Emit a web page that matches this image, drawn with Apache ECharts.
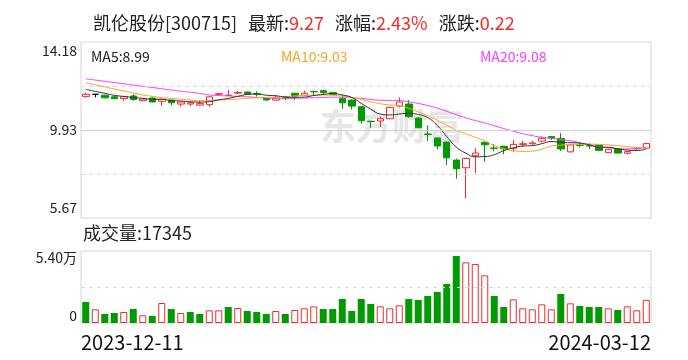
<!DOCTYPE html>
<html><head><meta charset="utf-8">
<script src="https://cdn.jsdelivr.net/npm/echarts@6/dist/echarts.min.js"></script>
<style>html,body{margin:0;padding:0;background:#fff}#c{width:688px;height:360px}</style>
</head><body><div id="c"></div>
<script>
// ---------- data ----------
const dates = ['2023-12-11','2023-12-12','2023-12-13','2023-12-14','2023-12-15','2023-12-18','2023-12-19','2023-12-20','2023-12-21','2023-12-22',
 '2023-12-25','2023-12-26','2023-12-27','2023-12-28','2023-12-29','2024-01-02','2024-01-03','2024-01-04','2024-01-05','2024-01-08',
 '2024-01-09','2024-01-10','2024-01-11','2024-01-12','2024-01-15','2024-01-16','2024-01-17','2024-01-18','2024-01-19','2024-01-22',
 '2024-01-23','2024-01-24','2024-01-25','2024-01-26','2024-01-29','2024-01-30','2024-01-31','2024-02-01','2024-02-02','2024-02-05',
 '2024-02-06','2024-02-07','2024-02-08','2024-02-19','2024-02-20','2024-02-21','2024-02-22','2024-02-23','2024-02-26','2024-02-27',
 '2024-02-28','2024-02-29','2024-03-01','2024-03-04','2024-03-05','2024-03-06','2024-03-07','2024-03-08','2024-03-11','2024-03-12'];
const opens = [11.55,11.65,11.61,11.53,11.44,11.57,11.34,11.47,11.31,11.37,
 11.18,11.18,11.13,11.15,11.65,11.59,11.71,11.76,11.68,11.50,
 11.37,11.48,11.70,11.60,11.79,11.82,11.73,11.44,11.37,11.05,
 10.35,10.36,10.47,11.08,11.18,10.50,9.73,9.54,9.34,8.47,
 8.10,8.68,9.33,9.05,9.14,9.04,9.23,9.26,9.39,9.61,
 9.52,8.87,9.20,9.17,9.20,8.83,9.02,8.80,9.02,9.05];
const closes = [11.65,11.65,11.48,11.44,11.53,11.40,11.42,11.28,11.41,11.24,
 11.28,11.24,11.20,11.53,11.68,11.61,11.74,11.66,11.65,11.38,
 11.47,11.45,11.57,11.70,11.77,11.74,11.65,11.24,11.08,10.37,
 10.33,10.47,11.02,11.28,10.57,10.04,9.70,9.15,8.58,8.05,
 8.55,8.81,9.21,9.04,9.01,9.23,9.26,9.30,9.52,9.53,
 9.01,9.20,9.18,9.15,8.94,8.99,8.81,8.88,9.05,9.27];
const lows = [11.49,11.50,11.45,11.42,11.34,11.34,11.32,11.26,11.10,11.12,
 11.05,11.08,11.10,11.05,11.61,11.57,11.67,11.64,11.54,11.34,
 11.35,11.37,11.37,11.58,11.57,11.63,11.62,10.95,10.92,10.23,
 10.03,10.08,10.45,11.02,10.52,10.00,9.39,8.99,8.23,7.57,
 6.62,7.84,8.39,8.90,8.75,8.87,9.11,9.21,9.32,9.45,
 8.91,8.83,9.08,9.00,8.92,8.81,8.79,8.74,8.95,9.04];
const highs = [11.73,11.67,11.63,11.55,11.55,11.65,11.45,11.49,11.43,11.39,
 11.30,11.31,11.34,11.55,11.72,11.86,11.81,11.78,11.80,11.52,
 11.63,11.58,11.72,11.82,11.82,11.86,11.78,11.63,11.40,11.08,
 10.36,10.57,11.04,11.50,11.37,10.55,10.15,9.56,9.36,8.54,
 8.57,9.04,9.36,9.24,9.16,9.45,9.40,9.40,9.61,9.64,
 9.78,9.22,9.33,9.28,9.22,9.01,9.04,8.91,9.10,9.28];
const volumes = [15750,10250,6750,7500,8250,10500,5750,5250,15000,10500,
 7500,8250,6750,9500,9500,12000,11250,9000,8250,6750,
 9000,6750,9750,11000,12500,10500,10500,18000,9000,18000,
 14250,12500,11000,13250,18000,17250,20250,23250,29250,50250,
 45500,44250,35750,20250,12000,17750,11000,10250,14000,10250,
 21750,14750,12750,12000,12000,11000,9750,12500,9500,17345];
const prevCloseBefore = 11.75;
const ma5Head = [11.89,11.79,11.70,11.60];
const ma10Head = [12.20,12.11,12.01,11.91,11.81,11.71,11.62,11.55,11.49];
const ma20Head = [12.40,12.34,12.28,12.22,12.16,12.10,12.04,11.98,11.92,11.86,11.80,11.75,11.69,11.62,11.59,11.57,11.55,11.53,11.50];
const priceTicks = [14.18, 9.93, 5.67];
const volTickLabels = ['5.40万', '0'];
const volMax = 54000;
const stockName = '凯伦股份', stockCode = '300715';
const latest = '9.27', pctChange = '2.43%', change = '0.22';
const maLabels = ['MA5:8.99', 'MA10:9.03', 'MA20:9.08'];
const volLabel = '成交量:17345';

// ---------- styles ----------
const RED = '#f42a2a', GREEN = '#009b00';
const C_MA5 = '#333333', C_MA10 = '#f7a623', C_MA20 = '#ff3cff';
const FONT = '"Noto Sans CJK SC", "Noto Sans", sans-serif';
const priceMax = priceTicks[0], priceMin = priceTicks[2];

function movingAvg(n, head) {
  return closes.map((c, i) => {
    if (i < n - 1) return head[i];
    let s = 0; for (let k = i - n + 1; k <= i; k++) s += closes[k];
    return +(s / n).toFixed(3);
  });
}
const ma5 = movingAvg(5, ma5Head), ma10 = movingAvg(10, ma10Head), ma20 = movingAvg(20, ma20Head);

const volData = volumes.map((v, i) => {
  const up = closes[i] >= (i === 0 ? prevCloseBefore : closes[i - 1]);
  return { value: v, itemStyle: up ? { color: '#fff', borderColor: RED, borderWidth: 1 } : { color: GREEN } };
});

const q = (priceMax - priceMin) / 4;
const chart = echarts.init(document.getElementById('c'), null, { renderer: 'canvas' });
chart.setOption({
  animation: false,
  backgroundColor: '#fff',
  textStyle: { fontFamily: FONT },
  title: {
    left: 88, top: 9,
    text: '{k|' + stockName + '[' + stockCode + ']}{g|最新:}{v|' + latest + '}{g|涨幅:}{v|' + pctChange + '}{g|涨跌:}{v|' + change + '}',
    textStyle: {
      fontWeight: 'normal',
      rich: {
        k: { fontSize: 18, color: '#222', fontFamily: FONT, fontWeight: 'normal' },
        g: { fontSize: 18, color: '#222', fontFamily: FONT, fontWeight: 'normal', padding: [0, 0, 0, 11] },
        v: { fontSize: 18, color: RED, fontFamily: FONT, fontWeight: 'normal' }
      }
    }
  },
  graphic: [
    { type: 'text', left: 320, top: 108, z: -10, silent: true,
      style: { text: '东方财富', fill: '#e6e6e9', font: 'bold 36px ' + FONT } },
    { type: 'text', x: 91, y: 57, style: { text: maLabels[0], fill: '#222', font: '14px ' + FONT, verticalAlign: 'middle' } },
    { type: 'text', x: 281, y: 57, style: { text: maLabels[1], fill: C_MA10, font: '14px ' + FONT, verticalAlign: 'middle' } },
    { type: 'text', x: 480, y: 57, style: { text: maLabels[2], fill: C_MA20, font: '14px ' + FONT, verticalAlign: 'middle' } },
    { type: 'text', x: 83, y: 233, style: { text: volLabel, fill: '#222', font: '18px ' + FONT, verticalAlign: 'middle' } }
  ],
  grid: [
    { left: 81, top: 42, width: 570, height: 176, show: true, borderColor: '#d6d6d6', borderWidth: 1 },
    { left: 81, top: 251, width: 570, height: 72, show: true, borderColor: '#d6d6d6', borderWidth: 1 }
  ],
  xAxis: [
    { type: 'category', gridIndex: 0, data: dates, boundaryGap: true, position: 'bottom',
      axisLine: { show: false }, axisTick: { show: false }, axisLabel: { show: false }, splitLine: { show: false } },
    { type: 'category', gridIndex: 1, data: dates, boundaryGap: true, position: 'top',
      axisLine: { show: false }, axisTick: { show: false }, axisLabel: { show: false }, splitLine: { show: false } },
    { type: 'value', gridIndex: 1, min: 0, max: 1, interval: 1, position: 'bottom',
      axisLine: { show: false }, axisTick: { show: false }, splitLine: { show: false },
      axisLabel: { formatter: v => (v === 0 ? dates[0] : dates[dates.length - 1]),
        alignMinLabel: 'left', alignMaxLabel: 'right', fontSize: 20, color: '#111', margin: 9, fontFamily: FONT } }
  ],
  yAxis: [
    { type: 'value', gridIndex: 0, min: priceMin, max: priceMax, scale: true,
      axisLine: { show: false }, axisTick: { show: false }, splitLine: { show: false },
      axisLabel: {
        customValues: [priceMin, (priceMin + priceMax) / 2, priceMax],
        margin: 4, color: '#222', fontSize: 14, fontFamily: FONT,
        formatter: (v) => {
          if (Math.abs(v - priceMax) < 1e-6) return '{t|' + priceTicks[0] + '}';
          if (Math.abs(v - priceMin) < 1e-6) return '{b|' + priceTicks[2] + '}';
          return '{m|' + priceTicks[1] + '}';
        },
        rich: {
          t: { fontSize: 14, color: '#222', padding: [17, 0, 0, 0], fontFamily: FONT },
          m: { fontSize: 14, color: '#222', fontFamily: FONT },
          b: { fontSize: 14, color: '#222', padding: [0, 0, 20, 0], fontFamily: FONT }
        }
      } },
    { type: 'value', gridIndex: 1, min: 0, max: volMax, interval: volMax / 2,
      axisLine: { show: false }, axisTick: { show: false }, splitLine: { show: false },
      axisLabel: {
        margin: 4, color: '#222', fontSize: 14, fontFamily: FONT,
        formatter: (v) => v === volMax ? '{t|' + volTickLabels[0] + '}' : (v === 0 ? '{b|' + volTickLabels[1] + '}' : ''),
        rich: {
          t: { fontSize: 14, color: '#222', padding: [14, 0, 0, 0], fontFamily: FONT },
          b: { fontSize: 14, color: '#222', padding: [0, 0, 14, 0], fontFamily: FONT }
        }
      } }
  ],
  series: [
    { type: 'line', xAxisIndex: 0, yAxisIndex: 0, data: [], z: 1, silent: true,
      markLine: { silent: true, symbol: 'none', label: { show: false }, animation: false,
        data: [
          { yAxis: priceMax - q, lineStyle: { color: '#d8d8d8', type: [4, 4], width: 1 } },
          { yAxis: priceMax - 2 * q, lineStyle: { color: '#d0d0d0', type: 'solid', width: 1 } },
          { yAxis: priceMax - 3 * q, lineStyle: { color: '#d8d8d8', type: [4, 4], width: 1 } }
        ] } },
    { type: 'line', xAxisIndex: 1, yAxisIndex: 1, data: [], z: 1, silent: true,
      markLine: { silent: true, symbol: 'none', label: { show: false }, animation: false,
        data: [ { yAxis: volMax / 2, lineStyle: { color: '#d8d8d8', type: [4, 4], width: 1 } } ] } },
    { type: 'candlestick', xAxisIndex: 0, yAxisIndex: 0, barWidth: 7, z: 2,
      data: dates.map((d, i) => [opens[i], closes[i], lows[i], highs[i]]),
      itemStyle: { color: '#fff', color0: GREEN, borderColor: RED, borderColor0: GREEN, borderColorDoji: '#000', borderWidth: 1 } },
    { type: 'line', xAxisIndex: 0, yAxisIndex: 0, data: ma20, smooth: true, symbol: 'none', showSymbol: false, z: 3,
      lineStyle: { color: C_MA20, width: 1 } },
    { type: 'line', xAxisIndex: 0, yAxisIndex: 0, data: ma10, smooth: true, symbol: 'none', showSymbol: false, z: 3,
      lineStyle: { color: C_MA10, width: 1 } },
    { type: 'line', xAxisIndex: 0, yAxisIndex: 0, data: ma5, smooth: true, symbol: 'none', showSymbol: false, z: 3,
      lineStyle: { color: C_MA5, width: 1 } },
    { type: 'bar', xAxisIndex: 1, yAxisIndex: 1, data: volData, barWidth: 7 }
  ]
});
</script>
</body></html>
